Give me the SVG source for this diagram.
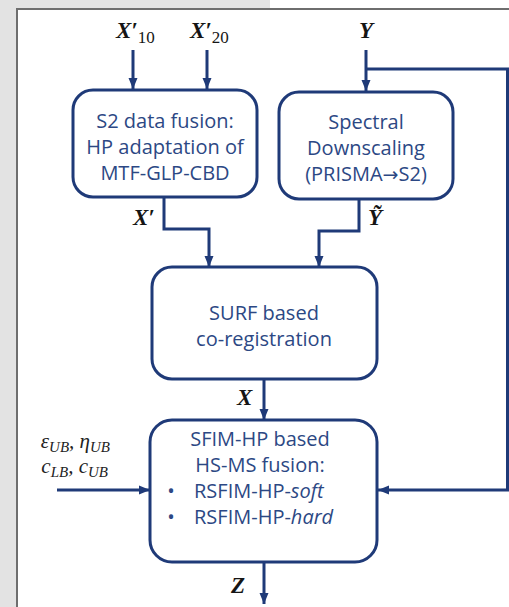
<svg xmlns="http://www.w3.org/2000/svg" width="509" height="607" viewBox="0 0 509 607">
  <style>
    .box { fill: #ffffff; stroke: #1f3a78; stroke-width: 3; }
    .wire { fill: none; stroke: #1f3a78; stroke-width: 3; }
    .arrow { marker-end: url(#head); }
    .txt { font-family: "Open Sans", "Noto Sans", sans-serif; font-size: 20px; fill: #2c4884; text-anchor: middle; }
    .sym { font-family: "DejaVu Sans", sans-serif; font-size: 19px; }
    .math { font-family: "Liberation Serif", "DejaVu Serif", serif; font-style: italic; font-weight: bold; font-size: 23px; fill: #151515; }
    .sub { font-style: normal; font-weight: normal; font-size: 17px; }
    .param { font-family: "Liberation Serif", "DejaVu Serif", serif; font-style: italic; font-size: 21px; fill: #222222; text-anchor: end; }
    .psub { font-size: 15px; }
  </style>
  <defs>
    <marker id="head" markerUnits="userSpaceOnUse" markerWidth="12" markerHeight="12" viewBox="0 0 12 12" refX="11" refY="6" orient="auto">
      <path d="M0,1.5 L11,6 L0,10.5 Z" fill="#1f3a78"/>
    </marker>
  </defs>

  <!-- page background and frame -->
  <rect x="0" y="0" width="509" height="607" fill="#e3e3e3"/>
  <rect x="270" y="0" width="239" height="9" fill="#ffffff"/>
  <rect x="18" y="10" width="491" height="597" fill="#ffffff"/>
  <path d="M17,607 V9 H509" fill="none" stroke="#6e6e6e" stroke-width="2"/>

  <!-- connectors -->
  <g id="connectors">
    <line class="wire arrow" x1="133" y1="50" x2="133" y2="89"/>
    <line class="wire arrow" x1="207" y1="50" x2="207" y2="89"/>
    <line class="wire arrow" x1="366" y1="50" x2="366" y2="91"/>
    <polyline class="wire arrow" points="366,69 507.5,69 507.5,490 378,490"/>
    <polyline class="wire arrow" points="164,197 164,229 209,229 209,267"/>
    <polyline class="wire arrow" points="359,199 359,231 319,231 319,267"/>
    <line class="wire arrow" x1="264" y1="379" x2="264" y2="420"/>
    <line class="wire arrow" x1="57" y1="490" x2="150" y2="490"/>
    <line class="wire arrow" x1="264" y1="562" x2="264" y2="604"/>
  </g>

  <!-- signal labels -->
  <g id="labels">
    <text class="math" x="116" y="38">X′<tspan class="sub" dy="5">10</tspan></text>
    <text class="math" x="190" y="38">X′<tspan class="sub" dy="5">20</tspan></text>
    <text class="math" x="359" y="38">Y</text>
    <text class="math" x="133" y="225">X′</text>
    <text class="math" x="368" y="225">Ỹ</text>
    <text class="math" x="237" y="405">X</text>
    <text class="math" x="231" y="593">Z</text>
    <text class="param" x="110" y="448">ε<tspan class="psub" dy="4">UB</tspan><tspan dy="-4">, η</tspan><tspan class="psub" dy="4">UB</tspan></text>
    <text class="param" x="108" y="473">c<tspan class="psub" dy="4">LB</tspan><tspan dy="-4">, c</tspan><tspan class="psub" dy="4">UB</tspan></text>
  </g>

  <!-- processing blocks -->
  <g id="s2-fusion">
    <rect class="box" x="73" y="90" width="184" height="107" rx="20"/>
    <text class="txt" x="165" y="128">S2 data fusion:</text>
    <text class="txt" x="165" y="154">HP adaptation of</text>
    <text class="txt" x="165" y="180">MTF-GLP-CBD</text>
  </g>

  <g id="spectral-downscaling">
    <rect class="box" x="279" y="92" width="174" height="107" rx="20"/>
    <text class="txt" x="366" y="129">Spectral</text>
    <text class="txt" x="366" y="155">Downscaling</text>
    <text class="txt" x="366" y="181">(PRISMA<tspan class="sym">→</tspan>S2)</text>
  </g>

  <g id="surf-coregistration">
    <rect class="box" x="152" y="267" width="225" height="112" rx="20"/>
    <text class="txt" x="264" y="320">SURF based</text>
    <text class="txt" x="264" y="346">co-registration</text>
  </g>

  <g id="hs-ms-fusion">
    <rect class="box" x="150" y="420" width="227" height="142" rx="22"/>
    <text class="txt" x="260" y="446">SFIM-HP based</text>
    <text class="txt" x="260" y="472">HS-MS fusion:</text>
    <text class="txt" x="171" y="498">•</text>
    <text class="txt" x="194" y="498" style="text-anchor:start">RSFIM-HP-<tspan font-style="italic">soft</tspan></text>
    <text class="txt" x="171" y="524">•</text>
    <text class="txt" x="194" y="524" style="text-anchor:start">RSFIM-HP-<tspan font-style="italic">hard</tspan></text>
  </g>
</svg>
